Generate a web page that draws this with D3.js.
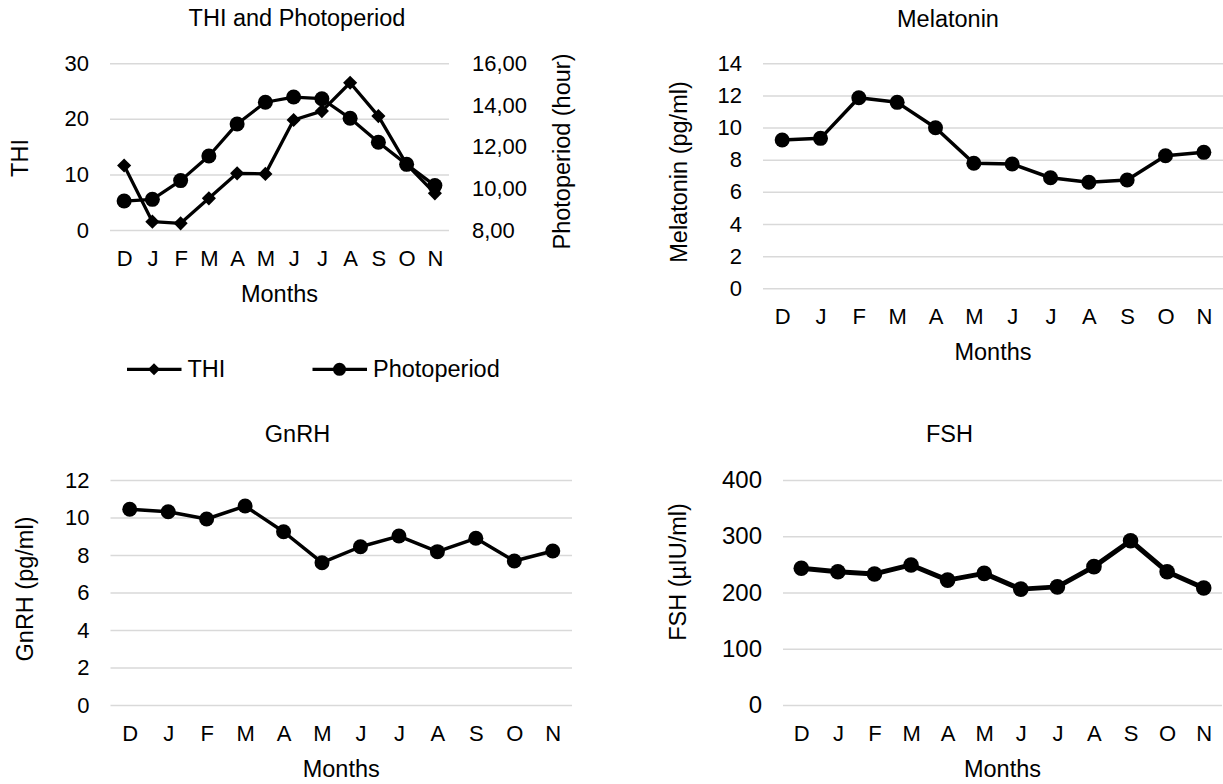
<!DOCTYPE html>
<html>
<head>
<meta charset="utf-8">
<script src="https://cdn.jsdelivr.net/npm/d3@7"></script>
<style>
  html, body { margin: 0; padding: 0; background: #fff; }
  svg { display: block; }
  text { font-family: "Liberation Sans", Arial, sans-serif; fill: #000; }
</style>
</head>
<body>
<svg id="chart" width="1223" height="784"></svg>
<script>
// ---------------- DATA ----------------
const months = ["D", "J", "F", "M", "A", "M", "J", "J", "A", "S", "O", "N"];
const thi = [11.6, 1.5, 1.2, 5.7, 10.2, 10.1, 19.8, 21.4, 26.5, 20.5, 11.8, 6.6];
const photoperiod = [9.39, 9.47, 10.37, 11.55, 13.09, 14.13, 14.38, 14.30, 13.36, 12.21, 11.15, 10.13];
const melatonin = [9.23, 9.33, 11.86, 11.57, 9.99, 7.78, 7.73, 6.88, 6.60, 6.74, 8.25, 8.46];
const gnrh = [10.44, 10.31, 9.92, 10.61, 9.24, 7.59, 8.44, 9.01, 8.18, 8.89, 7.68, 8.21];
const fsh = [243, 237, 233, 249, 222, 234, 206, 210, 246, 292, 237, 208];

const thiTicks = [0, 10, 20, 30];
const photoTicks = [8, 10, 12, 14, 16];
const melatoninTicks = [0, 2, 4, 6, 8, 10, 12, 14];
const gnrhTicks = [0, 2, 4, 6, 8, 10, 12];
const fshTicks = [0, 100, 200, 300, 400];

const legendNames = ["THI", "Photoperiod"];
const titles = ["THI and Photoperiod", "Melatonin", "GnRH", "FSH"];
const xTitle = "Months";
const yTitles = ["THI", "Melatonin (pg/ml)", "GnRH (pg/ml)", "FSH (\u00b5IU/ml)"];
const y2Title = "Photoperiod (hour)";

// ---------------- DRAW ----------------
const svg = d3.select("#chart");
const commaLocale = d3.formatLocale({ decimal: ",", thousands: ".", grouping: [3], currency: ["", ""] });
const fmt2 = commaLocale.format(".2f");
const idx = d3.range(months.length);

function panel(o) {
  const g = svg.append("g");
  const x = d3.scalePoint().domain(idx).range([o.x0, o.x1]).padding(0.5);
  const y = d3.scaleLinear().domain([o.ticks[0], o.ticks[o.ticks.length - 1]]).range([o.y0, o.y1]);

  // gridlines + left tick labels
  const ya = g.append("g").attr("transform", `translate(${o.x0},0)`)
    .call(d3.axisLeft(y).tickValues(o.ticks).tickSize(-(o.x1 - o.x0)).tickPadding(21).tickFormat(d3.format("d")));
  ya.select(".domain").remove();
  ya.selectAll(".tick line").attr("stroke", "#d9d9d9").attr("stroke-width", 1.5);
  ya.selectAll(".tick text").attr("font-size", o.tickFont || 22).attr("fill", "#000");

  // x tick labels
  const xa = g.append("g").attr("transform", `translate(0,${o.y0})`)
    .call(d3.axisBottom(x).tickSize(0).tickPadding(20).tickFormat(i => months[i]));
  xa.select(".domain").remove();
  xa.selectAll(".tick text").attr("font-size", 22).attr("fill", "#000");

  // titles
  g.append("text").attr("x", o.tx).attr("y", o.ty).attr("text-anchor", "middle")
    .attr("font-size", 23.5).text(o.title);
  g.append("text").attr("x", (o.x0 + o.x1) / 2).attr("y", o.mY).attr("text-anchor", "middle")
    .attr("font-size", 23.5).text(xTitle);
  g.append("text").attr("transform", `translate(${o.ylX},${o.ylY}) rotate(-90)`)
    .attr("text-anchor", "middle").attr("font-size", 23.5).text(o.yTitle);

  return { g, x, y };
}

function series(g, x, y, vals, lw, marker, msize) {
  const line = d3.line().x((d, i) => x(i)).y(d => y(d));
  g.append("path").datum(vals).attr("d", line).attr("fill", "none")
    .attr("stroke", "#000").attr("stroke-width", lw).attr("stroke-linejoin", "round");
  if (marker === "circle") {
    g.selectAll(null).data(vals).enter().append("circle")
      .attr("cx", (d, i) => x(i)).attr("cy", d => y(d)).attr("r", msize).attr("fill", "#000");
  } else {
    const sym = d3.symbol(d3.symbolSquare, msize);
    g.selectAll(null).data(vals).enter().append("path")
      .attr("d", sym)
      .attr("transform", (d, i) => `translate(${x(i)},${y(d)}) rotate(45)`)
      .attr("fill", "#000");
  }
}

// Panel 1: THI and Photoperiod
const p1 = panel({ x0: 110, x1: 449, y0: 230, y1: 63.3, ticks: thiTicks, tickFont: 22,
  title: titles[0], tx: 297, ty: 26, mY: 302, yTitle: yTitles[0], ylX: 28, ylY: 158 });
const y2 = d3.scaleLinear().domain([photoTicks[0], photoTicks[photoTicks.length - 1]]).range([230, 63.3]);
const ra = p1.g.append("g").attr("transform", "translate(449,0)")
  .call(d3.axisRight(y2).tickValues(photoTicks).tickSize(0).tickPadding(23).tickFormat(fmt2));
ra.select(".domain").remove();
ra.selectAll(".tick text").attr("font-size", 22).attr("fill", "#000");
p1.g.append("text").attr("transform", "translate(570,151.5) rotate(-90)")
  .attr("text-anchor", "middle").attr("font-size", 23.5).text(y2Title);
series(p1.g, p1.x, y2, photoperiod, 3.25, "circle", 7.5);
series(p1.g, p1.x, p1.y, thi, 3.25, "diamond", 100);

// legend
const lg = svg.append("g");
const legendItems = [
  { name: legendNames[0], x0: 127, marker: "diamond" },
  { name: legendNames[1], x0: 312.5, marker: "circle" }
];
legendItems.forEach(it => {
  lg.append("line").attr("x1", it.x0).attr("x2", it.x0 + 54.5).attr("y1", 369.3).attr("y2", 369.3)
    .attr("stroke", "#000").attr("stroke-width", 3.25);
  const cx = it.x0 + 27;
  if (it.marker === "circle") {
    lg.append("circle").attr("cx", cx).attr("cy", 369.3).attr("r", 6.5).attr("fill", "#000");
  } else {
    lg.append("path").attr("d", d3.symbol(d3.symbolSquare, 72)).attr("transform", `translate(${cx},369.3) rotate(45)`).attr("fill", "#000");
  }
  lg.append("text").attr("x", it.x0 + 60.5).attr("y", 377).attr("font-size", 23.5).text(it.name);
});

// Panel 2: Melatonin
const p2 = panel({ x0: 763, x1: 1223, y0: 288.3, y1: 63.3, ticks: melatoninTicks, tickFont: 22,
  title: titles[1], tx: 948, ty: 26.5, mY: 360, yTitle: yTitles[1], ylX: 687, ylY: 172 });
series(p2.g, p2.x, p2.y, melatonin, 3.5, "circle", 7.5);

// Panel 3: GnRH
const p3 = panel({ x0: 110.5, x1: 572, y0: 705, y1: 480, ticks: gnrhTicks, tickFont: 22,
  title: titles[2], tx: 297.5, ty: 442, mY: 777, yTitle: yTitles[2], ylX: 33, ylY: 589 });
series(p3.g, p3.x, p3.y, gnrh, 3.5, "circle", 7.5);

// Panel 4: FSH
const p4 = panel({ x0: 783, x1: 1222, y0: 705, y1: 480, ticks: fshTicks, tickFont: 24,
  title: titles[3], tx: 949.5, ty: 442, mY: 777, yTitle: yTitles[3], ylX: 686, ylY: 572 });
series(p4.g, p4.x, p4.y, fsh, 5, "circle", 7.8);
</script>
</body>
</html>
